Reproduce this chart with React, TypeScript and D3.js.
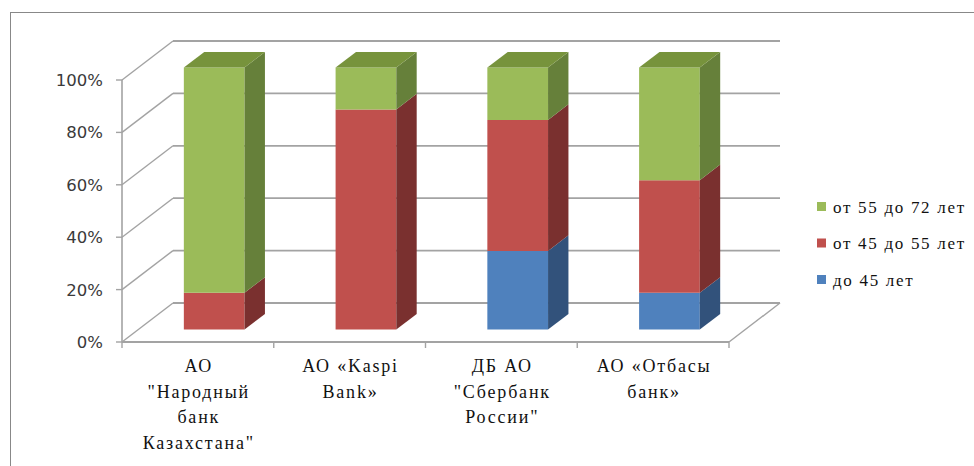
// Age structure of bank staff - 3D stacked percent columns drawn with D3 scales

import * as d3 from "d3";

const categories = [
  ["АО", "\"Народный", "банк", "Казахстана\""],
  ["АО «Kaspi", "Bank»"],
  ["ДБ АО", "\"Сбербанк", "России\""],
  ["АО «Отбасы", "банк»"],
];

const seriesNames = ["до 45 лет", "от 45 до 55 лет", "от 55 до 72 лет"];
const under45 = [0, 0, 30, 14];
const from45to55 = [14, 84, 50, 43];
const from55to72 = [86, 16, 20, 43];

const yTicks = [0, 20, 40, 60, 80, 100];

const colors = [
  { front: "#4F81BD", side: "#32527B", top: "#3E6797" },
  { front: "#C0504D", side: "#7A302F", top: "#9A3E3B" },
  { front: "#9BBB59", side: "#66803A", top: "#77933C" },
];

export default function App() {
  const width = 974;
  const height = 466;

  // front plane of the plot and depth vector of the box
  const x0 = 122;
  const x1 = 729;
  const depthX = 51;
  const depthY = -39;
  const zFront = 0.32;
  const zBack = 0.72;

  const y = d3.scaleLinear().domain([0, 100]).range([342, 80]);
  const xBand = d3
    .scaleBand<number>()
    .domain(categories.map((_, i) => i))
    .range([x0, x1])
    .paddingInner(0.6)
    .paddingOuter(0.3);
  const step = xBand.step();

  const P = (x: number, v: number, z: number): [number, number] => [
    x + z * depthX,
    y(v) + z * depthY,
  ];
  const poly = (pts: [number, number][]) =>
    "M" + pts.map((p) => p.join(",")).join("L") + "Z";

  const rows = categories.map((_, i) => ({
    a: under45[i],
    b: from45to55[i],
    c: from55to72[i],
  }));
  const stack = d3.stack<{ a: number; b: number; c: number }>().keys(["a", "b", "c"]);
  const layers = stack(rows);

  const gridColor = "#A3A3A3";

  return (
    <svg
      width={width}
      height={height}
      style={{ position: "absolute", left: 0, top: 0, background: "#fff" }}
    >
      {/* outer frame */}
      <rect x={10.5} y={12.5} width={1000} height={500} fill="none" stroke="#888" />

      {/* back wall gridlines + left wall lines */}
      {yTicks.map((t) => {
        const f = P(x0, t, 0);
        const b = P(x0, t, 1);
        const br = P(x1, t, 1);
        return (
          <g key={t}>
            <line x1={b[0]} y1={b[1]} x2={br[0]} y2={br[1]} stroke={gridColor} strokeWidth={1.8} />
            <line x1={f[0]} y1={f[1]} x2={b[0]} y2={b[1]} stroke={gridColor} strokeWidth={1.4} />
            <line x1={f[0] - 6} y1={f[1]} x2={f[0]} y2={f[1]} stroke={gridColor} strokeWidth={1.4} />
            <text
              x={103}
              y={f[1]}
              dy="0.36em"
              textAnchor="end"
              fontFamily="DejaVu Sans"
              fontSize={16.5}
              fill="#3a3a3a"
            >
              {t}%
            </text>
          </g>
        );
      })}

      {/* front value axis */}
      <line x1={x0} y1={y(0)} x2={x0} y2={y(100)} stroke={gridColor} strokeWidth={1.6} />

      {/* floor */}
      <line x1={x0} y1={y(0)} x2={x1} y2={y(0)} stroke={gridColor} strokeWidth={2} />
      <line
        x1={x1}
        y1={y(0)}
        x2={P(x1, 0, 1)[0]}
        y2={P(x1, 0, 1)[1]}
        stroke={gridColor}
        strokeWidth={1.4}
      />
      {d3.range(categories.length + 1).map((i) => {
        const xt = x0 + i * step;
        return (
          <line key={i} x1={xt} y1={y(0)} x2={xt} y2={y(0) + 6} stroke={gridColor} strokeWidth={1.4} />
        );
      })}

      {/* bars */}
      {categories.map((_, i) => {
        const bx = xBand(i)!;
        const bw = xBand.bandwidth();
        return (
          <g key={i}>
            {layers.map((layer, k) => {
              const [v0, v1] = layer[i];
              if (v1 - v0 <= 0) return null;
              const c = colors[k];
              const isTop = v1 >= 100 - 1e-6;
              return (
                <g key={k}>
                  <path
                    d={poly([P(bx, v0, zFront), P(bx + bw, v0, zFront), P(bx + bw, v1, zFront), P(bx, v1, zFront)])}
                    fill={c.front}
                  />
                  <path
                    d={poly([P(bx + bw, v0, zFront), P(bx + bw, v0, zBack), P(bx + bw, v1, zBack), P(bx + bw, v1, zFront)])}
                    fill={c.side}
                  />
                  {isTop && (
                    <path
                      d={poly([P(bx, v1, zFront), P(bx + bw, v1, zFront), P(bx + bw, v1, zBack), P(bx, v1, zBack)])}
                      fill={c.top}
                    />
                  )}
                </g>
              );
            })}
          </g>
        );
      })}

      {/* category labels */}
      {categories.map((lines, i) => {
        const cx = x0 + (i + 0.5) * step + 0.9;
        return (
          <text
            key={i}
            x={cx}
            y={372}
            textAnchor="middle"
            fontFamily="Times New Roman"
            fontSize={18}
            letterSpacing={1.8}
            fill="#111"
          >
            {lines.map((l, j) => (
              <tspan key={j} x={cx} dy={j === 0 ? 0 : 25.5}>
                {l}
              </tspan>
            ))}
          </text>
        );
      })}

      {/* legend (top series first) */}
      {[2, 1, 0].map((k, r) => {
        const ly = 207 + r * 36.5;
        return (
          <g key={k}>
            <rect x={817} y={ly - 5} width={9} height={9} fill={colors[k].front} />
            <text
              x={833}
              y={ly}
              dy="0.35em"
              fontFamily="Liberation Serif"
              fontSize={17}
              letterSpacing={1.7}
              fill="#111"
            >
              {seriesNames[k]}
            </text>
          </g>
        );
      })}
    </svg>
  );
}
